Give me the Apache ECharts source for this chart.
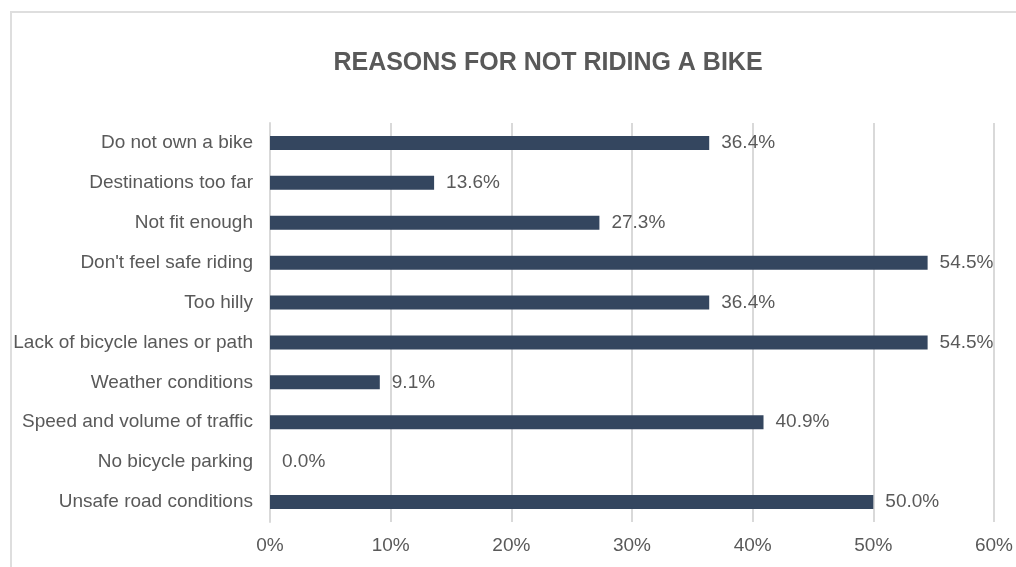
<!DOCTYPE html>
<html>
<head>
<meta charset="utf-8">
<script src="https://cdn.jsdelivr.net/npm/echarts@6/dist/echarts.min.js"></script>
<style>
  html, body { margin: 0; padding: 0; background: #fff; }
  #chart { width: 1016px; height: 567px; }
</style>
</head>
<body>
<div id="chart"></div>
<script>
// categories, top to bottom as in the picture
const reasons = [
  "Do not own a bike",
  "Destinations too far",
  "Not fit enough",
  "Don't feel safe riding",
  "Too hilly",
  "Lack of bicycle lanes or path",
  "Weather conditions",
  "Speed and volume of traffic",
  "No bicycle parking",
  "Unsafe road conditions"
];
const shares = [36.4, 13.6, 27.3, 54.5, 36.4, 54.5, 9.1, 40.9, 0.0, 50.0]; // percent

const textColor = "#595959";
const barColor = "#34465f";
const font = "Liberation Sans, Arial, sans-serif";

const chart = echarts.init(document.getElementById("chart"));
chart.setOption({
  animation: false,
  title: {
    text: "REASONS FOR NOT RIDING A BIKE",
    left: 543,
    top: 46,
    textAlign: "center",
    textStyle: {
      fontFamily: font,
      fontSize: 25,
      fontWeight: "bold",
      color: textColor
    }
  },
  graphic: [{
    type: "rect",
    shape: { x: 11, y: 12, width: 1020, height: 600 },
    style: { fill: "none", stroke: "#dedede", lineWidth: 2 },
    silent: true
  }],
  grid: { left: 270, top: 123, width: 725, height: 399 },
  xAxis: {
    type: "value",
    min: 0,
    max: 60,
    interval: 10,
    axisLine: { show: false },
    axisTick: { show: false },
    splitLine: { lineStyle: { color: "#d9d9d9", width: 2 } },
    axisLabel: {
      formatter: "{value}%",
      margin: 14,
      fontFamily: font,
      fontSize: 19,
      color: textColor
    }
  },
  yAxis: {
    type: "category",
    data: reasons,
    inverse: true,
    axisLine: { show: true, lineStyle: { color: "#d9d9d9", width: 2 } },
    axisTick: { show: false },
    axisLabel: {
      margin: 17,
      padding: [2, 0, 0, 0],
      fontFamily: font,
      fontSize: 19,
      color: textColor
    }
  },
  series: [{
    type: "bar",
    data: shares,
    barWidth: 14,
    itemStyle: { color: barColor },
    label: {
      show: true,
      position: "right",
      distance: 12,
      formatter: (p) => p.value.toFixed(1) + "%",
      fontFamily: font,
      fontSize: 19,
      color: textColor
    }
  }]
});
</script>
</body>
</html>
